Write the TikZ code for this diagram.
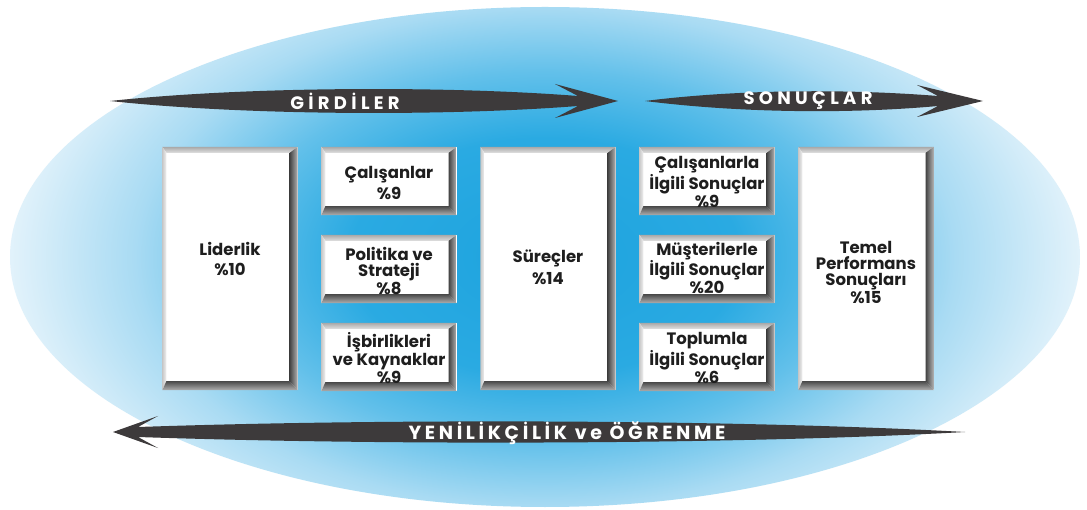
\documentclass[tikz,border=0pt]{standalone}
\usepackage{fontspec}
\setmainfont{Poppins}
\newfontfamily\bannerfont[LetterSpace=24]{Poppins}
\newfontfamily\bannerfontnarrow[LetterSpace=19]{Poppins}
\usetikzlibrary{calc}

% palette
\definecolor{blueA}{HTML}{1DA3DE}
\definecolor{blueB}{HTML}{2AAAE2}
\definecolor{blueC}{HTML}{62C0EA}
\definecolor{blueD}{HTML}{A9DBF3}
\definecolor{blueE}{HTML}{E4F3FB}
\definecolor{arrowgray}{HTML}{3D3A3B}
\definecolor{inkdark}{HTML}{1E1E1E}
\definecolor{bevtopout}{HTML}{A8A8A8}
\definecolor{bevtopin}{HTML}{E0E0E0}
\definecolor{bevleftout}{HTML}{C8C8C8}
\definecolor{bevleftin}{HTML}{F0F0F0}
\definecolor{bevrightin}{HTML}{444444}
\definecolor{bevrightout}{HTML}{B4B4B4}
\definecolor{bevbotin}{HTML}{4A4A4A}
\definecolor{bevbotout}{HTML}{B0B0B0}

\pgfdeclareradialshading{lensglow}{\pgfpoint{0bp}{0bp}}{%
  color(0bp)=(blueA); color(9bp)=(blueB); color(14bp)=(blueC);
  color(19bp)=(blueD); color(25bp)=(blueE); color(50bp)=(blueE)}

\tikzset{
  panel/.style={fill=white, inner sep=0pt, minimum width=135pt},
  tallpanel/.style={panel, minimum height=243pt},
  smallpanel/.style={panel, minimum height=68pt},
  paneltext/.style={font=\fontsize{16.5}{16}\selectfont\bfseries,
    text=inkdark, align=center, inner sep=0pt},
  bannertext/.style={text=white, inner sep=0pt,
    font=\bannerfont\fontsize{18}{18}\selectfont\bfseries},
  bannertextnarrow/.style={text=white, inner sep=0pt,
    font=\bannerfontnarrow\fontsize{19}{19}\selectfont\bfseries}
}

% bevelled frame around a panel node
\newcommand\bevelframe[1]{%
  \path (#1.north west) coordinate (#1-o1) (#1.north east) coordinate (#1-o2)
        (#1.south east) coordinate (#1-o3) (#1.south west) coordinate (#1-o4);
  \path ($(#1.north west)+(4pt,-6pt)$) coordinate (#1-i1)
        ($(#1.north east)+(-8pt,-6pt)$) coordinate (#1-i2)
        ($(#1.south east)+(-8pt,9pt)$) coordinate (#1-i3)
        ($(#1.south west)+(4pt,9pt)$) coordinate (#1-i4);
  \shade[top color=bevtopout, bottom color=bevtopin]
    (#1-o1) -- (#1-o2) -- (#1-i2) -- (#1-i1) -- cycle;
  \shade[left color=bevleftout, right color=bevleftin]
    (#1-o1) -- (#1-i1) -- (#1-i4) -- (#1-o4) -- cycle;
  \shade[left color=bevrightin, right color=bevrightout]
    (#1-o2) -- (#1-o3) -- (#1-i3) -- (#1-i2) -- cycle;
  \shade[top color=bevbotin, bottom color=bevbotout]
    (#1-i4) -- (#1-i3) -- (#1-o3) -- (#1-o4) -- cycle;
}

\begin{document}
\begin{tikzpicture}[x=1pt,y=-1pt]
\useasboundingbox (0,0) rectangle (1087,510);
\fill[white] (0,0) rectangle (1087,510);

% glowing backdrop
\begin{scope}
  \clip (545,257) ellipse [x radius=535pt, y radius=250pt];
  \shade[shading=lensglow] (545,257) ellipse [x radius=540pt, y radius=330pt];
\end{scope}

% banner arrows
\fill[arrowgray] (110,101) .. controls (250,86) and (450,86) .. (578,96)
  -- (555,84) -- (618,101) -- (555,118) -- (578,106)
  .. controls (450,116) and (250,116) .. (110,101) -- cycle;
\fill[arrowgray] (645,101) .. controls (740,89) and (850,89) .. (938,96)
  -- (917,85) -- (983,101) -- (917,117) -- (938,106)
  .. controls (850,114) and (740,113) .. (645,101) -- cycle;
\fill[arrowgray] (113,432) -- (158,416) -- (138,427)
  .. controls (400,418) and (750,420) .. (965,432)
  .. controls (750,444) and (400,446) .. (138,437) -- (158,448) -- cycle;

\node[bannertext] (inLbl) at (345,101) {GİRDİLER};
\node[bannertext] (outLbl) at (808,101) {SONUÇLAR};
\node[bannertextnarrow] (learnLbl) at (567,433) {YENİLİKÇİLİK ve ÖĞRENME};

% panels
\node[tallpanel] (lid) at (230,268.5) {};
\node[smallpanel] (cal) at (389,181) {};
\node[smallpanel] (pol) at (389,269) {};
\node[smallpanel] (isb) at (389,357) {};
\node[tallpanel] (sur) at (548,268.5) {};
\node[smallpanel] (calr) at (707,181) {};
\node[smallpanel] (mus) at (707,269) {};
\node[smallpanel] (top) at (707,357) {};
\node[tallpanel] (tem) at (866,268.5) {};

\foreach \p in {lid,cal,pol,isb,sur,calr,mus,top,tem} {\bevelframe{\p}}

% panel captions
\node[paneltext] (lidT) at ([yshift=10pt]lid.center) {Liderlik\\[4pt]\%10};
\node[paneltext] (calT) at ([yshift=-2pt]cal.center) {Çalışanlar\\[4pt]\%9};
\node[paneltext] (polT) at ([yshift=-2pt]pol.center) {Politika ve\\Strateji\\\%8};
\node[paneltext] (isbT) at ([yshift=-1pt]isb.center) {İşbirlikleri\\ve Kaynaklar\\\%9};
\node[paneltext] (surT) at ([yshift=1pt]sur.center) {Süreçler\\[4pt]\%14};
\node[paneltext] (calrT) at ([yshift=-1pt]calr.center) {Çalışanlarla\\İlgili Sonuçlar\\\%9};
\node[paneltext] (musT) at ([yshift=1pt]mus.center) {Müşterilerle\\İlgili Sonuçlar\\\%20};
\node[paneltext] (topT) at ([yshift=-1pt]top.center) {Toplumla\\İlgili Sonuçlar\\\%6};
\node[paneltext] (temT) at ([yshift=-4pt]tem.center) {Temel\\Performans\\Sonuçları\\\%15};
\end{tikzpicture}
\end{document}
